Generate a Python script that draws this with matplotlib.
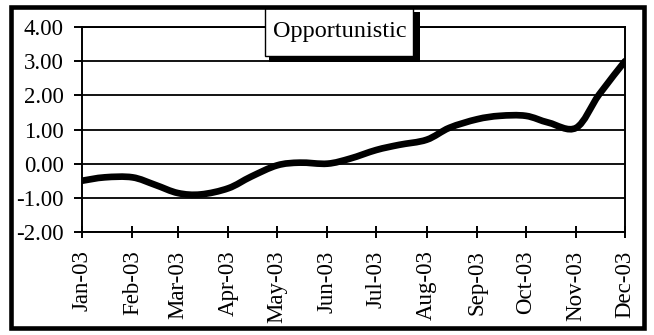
import numpy as np
import matplotlib
matplotlib.use("Agg")
import matplotlib.pyplot as plt
import matplotlib.dates as mdates
from matplotlib.path import Path
from matplotlib.patches import PathPatch, Rectangle
from datetime import datetime

plt.rcParams['font.family'] = ['Liberation Serif', 'DejaVu Serif']

# Semi-monthly observations of the Opportunistic index, 2003
obs_dates = ["2003-01-01", "2003-01-15", "2003-02-01", "2003-02-15",
             "2003-03-01", "2003-03-15", "2003-04-01", "2003-04-15",
             "2003-05-01", "2003-05-15", "2003-06-01", "2003-06-15",
             "2003-07-01", "2003-07-15", "2003-08-01", "2003-08-15",
             "2003-09-01", "2003-09-15", "2003-10-01", "2003-10-15",
             "2003-11-01", "2003-11-15", "2003-12-01"]
values = [-0.50, -0.40, -0.40, -0.62,
          -0.86, -0.90, -0.72, -0.38,
          -0.05, 0.03, 0.00, 0.15,
          0.40, 0.55, 0.70, 1.05,
          1.30, 1.40, 1.40, 1.20,
          1.05, 2.02, 3.00]
series_name = "Opportunistic"
y_ticks = [-2, -1, 0, 1, 2, 3, 4]
month_ticks = ["2003-%02d-01" % m for m in range(1, 13)]

W, H = 654, 335
fig = plt.figure(figsize=(W / 100, H / 100), dpi=100)
ax = fig.add_axes([82 / W, (H - 232) / H, 543 / W, 205 / H])

x = mdates.date2num([datetime.strptime(d, "%Y-%m-%d") for d in obs_dates])
y = np.asarray(values)

# Smoothed line: cubic Bezier segments with Catmull-Rom style control points
px = np.concatenate([[x[0]], x, [x[-1]]])
py = np.concatenate([[y[0]], y, [y[-1]]])
verts = [(x[0], y[0])]
codes = [Path.MOVETO]
for i in range(1, len(px) - 2):
    c1 = (px[i] + (px[i + 1] - px[i - 1]) / 6, py[i] + (py[i + 1] - py[i - 1]) / 6)
    c2 = (px[i + 1] - (px[i + 2] - px[i]) / 6, py[i + 1] - (py[i + 2] - py[i]) / 6)
    verts += [c1, c2, (px[i + 1], py[i + 1])]
    codes += [Path.CURVE4] * 3
ax.add_patch(PathPatch(Path(verts, codes), facecolor="none", edgecolor="black",
                       lw=4.8, capstyle="round", joinstyle="round", zorder=3))

ax.set_ylim(-2, 4)
ax.set_yticks(y_ticks)
ax.set_yticklabels(["%.2f" % v for v in y_ticks])
tick_x = mdates.date2num([datetime.strptime(d, "%Y-%m-%d") for d in month_ticks])
ax.set_xlim(tick_x[0], tick_x[-1])
ax.set_xticks(tick_x)
ax.xaxis.set_major_formatter(mdates.DateFormatter("%b-%y"))

ax.grid(axis="y", color="black", lw=1.3)
ax.set_axisbelow(True)
for s in ax.spines.values():
    s.set_color("black")
    s.set_linewidth(1.4)

ax.tick_params(axis="y", direction="out", length=5.8, width=1.4, pad=7.5,
               labelsize=16.5, colors="black")
ax.tick_params(axis="x", direction="inout", length=8.5, width=1.4, pad=9,
               labelsize=16.5, colors="black", labelrotation=90)

# Title box with drop shadow
shadow = Rectangle((269 / W, (H - 62) / H), 151 / W, 50 / H, transform=fig.transFigure,
                   facecolor="black", edgecolor="none", zorder=5)
box = Rectangle((265 / W, (H - 56) / H), 148 / W, 48 / H, transform=fig.transFigure,
                facecolor="white", edgecolor="black", lw=1.0, zorder=6)
fig.add_artist(shadow)
fig.add_artist(box)
fig.text(340 / W, (H - 31) / H, series_name, ha="center", va="center",
         fontsize=17.5, color="black", zorder=7)

# Outer frame
frame = Rectangle((11 / W, 7.5 / H), 633 / W, 320.5 / H, transform=fig.transFigure,
                  facecolor="none", edgecolor="black", lw=3.3, zorder=8)
fig.add_artist(frame)

fig.savefig("out.png", dpi=100)
